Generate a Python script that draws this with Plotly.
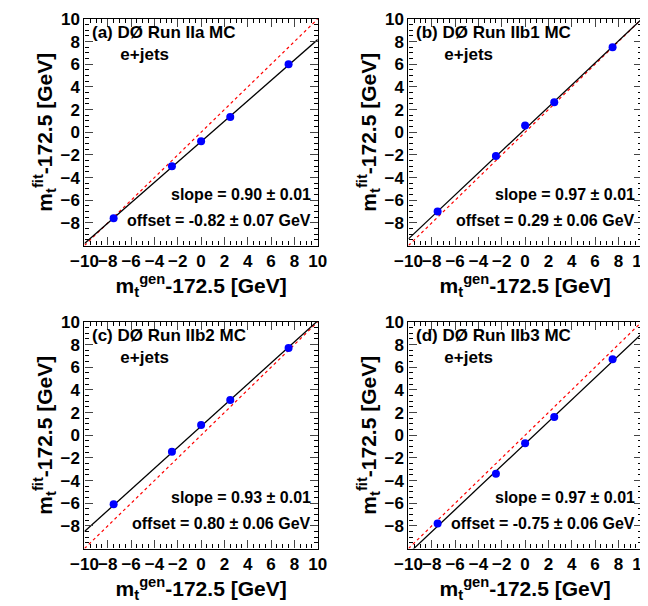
import plotly.graph_objects as go

x_gen = [-7.5, -2.5, 0, 2.5, 7.5]
panels = ["(a) DØ Run IIa MC", "(b) DØ Run IIb1 MC", "(c) DØ Run IIb2 MC", "(d) DØ Run IIb3 MC"]
y_a = [-7.6, -3.0, -0.8, 1.35, 6.0]
y_b = [-7.0, -2.1, 0.6, 2.65, 7.5]
y_c = [-6.1, -1.45, 0.9, 3.1, 7.7]
y_d = [-7.8, -3.4, -0.7, 1.6, 6.7]
slopes = [0.90, 0.97, 0.93, 0.97]
offsets = [-0.82, 0.29, 0.80, -0.75]
offset_err = [0.07, 0.06, 0.06, 0.06]
ys = [y_a, y_b, y_c, y_d]
xticks = [-10, -8, -6, -4, -2, 0, 2, 4, 6, 8, 10]
yticks = [-8, -6, -4, -2, 0, 2, 4, 6, 8, 10]

F = "Liberation Sans"
xdom = [[0.118, 0.478], [0.618, 0.978]]
ydom = [[0.608, 0.982], [0.108, 0.482]]

fig = go.Figure()
for i in range(4):
    r, c = divmod(i, 2)
    n = "" if i == 0 else str(i + 1)
    xa, ya = "x" + n, "y" + n
    fig.add_trace(go.Scatter(x=[-10, 10], y=[-10, 10], mode="lines",
                             line=dict(color="red", dash="dot", width=1.2), xaxis=xa, yaxis=ya))
    fx = [-10, 10]
    fy = [slopes[i] * v + offsets[i] for v in fx]
    fig.add_trace(go.Scatter(x=fx, y=fy, mode="lines", line=dict(color="black", width=1.3),
                             xaxis=xa, yaxis=ya))
    fig.add_trace(go.Scatter(x=x_gen, y=ys[i], mode="markers",
                             marker=dict(color="blue", size=8), xaxis=xa, yaxis=ya))
    common = dict(range=[-10, 10], ticks="inside", ticklen=8, mirror="allticks", tickangle=0,
                  automargin=False,
                  showline=True, linecolor="black", linewidth=1.3, showgrid=False, zeroline=False,
                  tickfont=dict(family=F, size=17, color="black", weight="bold"),
                  minor=dict(ticks="inside", ticklen=4, dtick=0.5, tickcolor="black"))
    fig.layout["xaxis" + n] = dict(common, domain=xdom[c], anchor=ya, tickvals=xticks,
        title=dict(text="m<sub>t</sub><sup>gen</sup>-172.5 [GeV]", standoff=6,
                   font=dict(family=F, size=21, color="black", weight="bold")))
    fig.layout["yaxis" + n] = dict(common, domain=ydom[r], anchor=xa, tickvals=yticks,
        title=dict(text="m<sub>t</sub><sup>fit</sup>-172.5 [GeV]", standoff=2,
                   font=dict(family=F, size=21, color="black", weight="bold")))
    fig.add_annotation(x=-9.5, y=9.8, xref=xa, yref=ya, xanchor="left", yanchor="top",
                       text=panels[i] + "<br>      e+jets", showarrow=False, align="left",
                       font=dict(family=F, size=17, color="black", weight="bold"))
    fig.add_annotation(x=9.6, y=-5.5, xref=xa, yref=ya, xanchor="right", yanchor="middle",
                       text="slope = %.2f ± 0.01" % slopes[i], showarrow=False,
                       font=dict(family=F, size=16, color="black", weight="bold"))
    fig.add_annotation(x=9.6, y=-7.8, xref=xa, yref=ya, xanchor="right", yanchor="middle",
                       text="offset = %.2f ± %.2f GeV" % (offsets[i], offset_err[i]), showarrow=False,
                       font=dict(family=F, size=16, color="black", weight="bold"))

fig.update_layout(width=648, height=606, showlegend=False, plot_bgcolor="white",
                  paper_bgcolor="white", margin=dict(l=0, r=0, t=0, b=0))
fig.write_html("out.html")
